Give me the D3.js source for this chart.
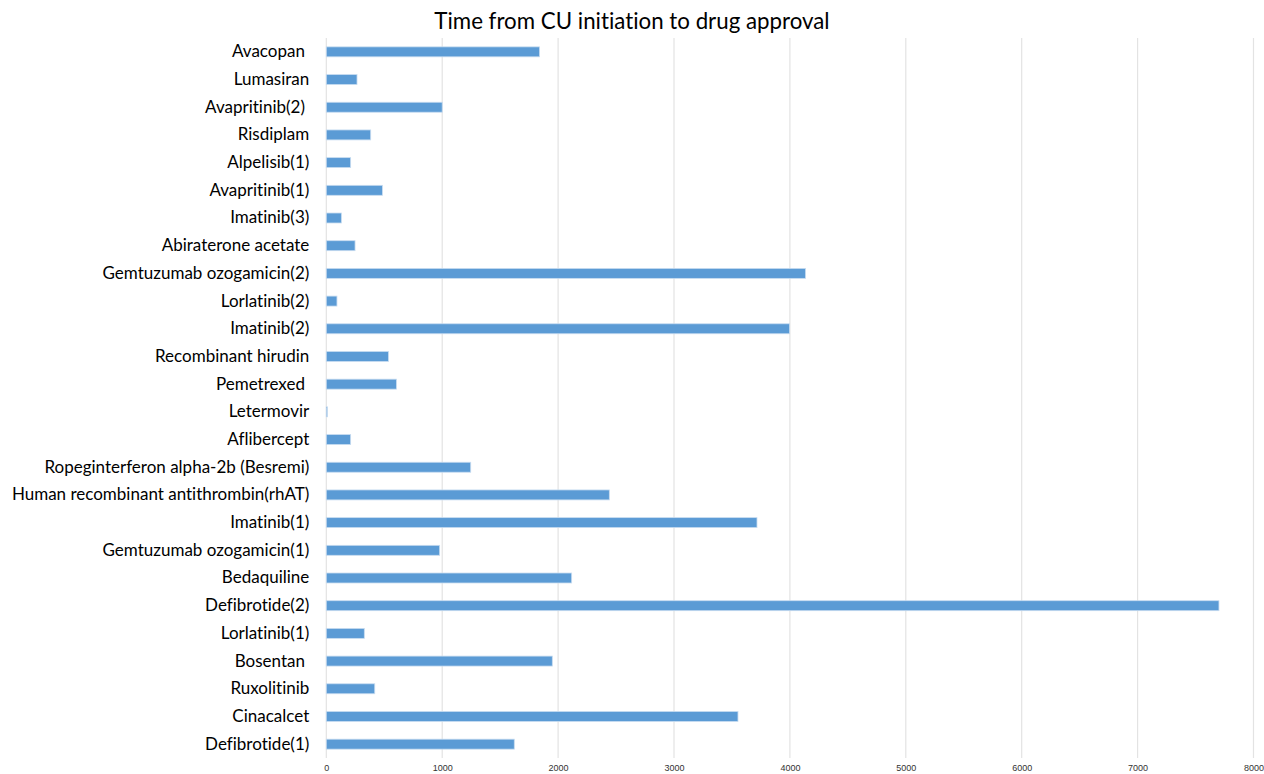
<!DOCTYPE html>
<html><head><meta charset="utf-8">
<script src="https://cdn.jsdelivr.net/npm/d3@7"></script>
<style>
body{margin:0;background:#fff;}
svg{display:block;}
text{font-variant-ligatures:none;}
</style></head>
<body>
<svg id="chart" width="1264" height="774"></svg>
<script>
const categories = ["Avacopan ","Lumasiran","Avapritinib(2) ","Risdiplam","Alpelisib(1)","Avapritinib(1)","Imatinib(3)","Abiraterone acetate","Gemtuzumab ozogamicin(2)","Lorlatinib(2)","Imatinib(2)","Recombinant hirudin","Pemetrexed ","Letermovir","Aflibercept","Ropeginterferon alpha-2b (Besremi)","Human recombinant antithrombin(rhAT)","Imatinib(1)","Gemtuzumab ozogamicin(1)","Bedaquiline","Defibrotide(2)","Lorlatinib(1)","Bosentan ","Ruxolitinib","Cinacalcet","Defibrotide(1)"];
const values = [1840,265,1000,383,210,484,130,248,4135,92,3997,536,605,10,210,1246,2442,3716,978,2117,7702,328,1950,418,3552,1622];
const xTicks = [0,1000,2000,3000,4000,5000,6000,7000,8000];
const title = "Time from CU initiation to drug approval";

const svg = d3.select("#chart");
const mLeft = 326.3, mRight = 1253.5, mTop = 38, mBottom = 758;
const x = d3.scaleLinear().domain([0,8000]).range([mLeft,mRight]);
const y = d3.scaleBand().domain(categories).range([mTop,mBottom]).paddingInner(0.64).paddingOuter(0.32);

// gridlines
svg.append("g").selectAll("line").data(xTicks).join("line")
  .attr("x1",d=>x(d)).attr("x2",d=>x(d)).attr("y1",mTop).attr("y2",mBottom)
  .attr("stroke","#e3e3e3").attr("stroke-width",1.2);

// bars
svg.append("g").selectAll("rect").data(categories).join("rect")
  .attr("x",x(0)).attr("y",d=>y(d))
  .attr("width",(d,i)=>Math.max(1,x(values[i])-x(0)))
  .attr("height",y.bandwidth())
  .attr("fill","#5b9bd5").attr("stroke","#c8dcf0").attr("stroke-width",0.8);

// category labels
const yAxis = d3.axisLeft(y).tickSize(0).tickPadding(17);
const gy = svg.append("g").attr("transform",`translate(${mLeft},0)`).call(yAxis);
gy.select(".domain").remove();
gy.selectAll("text").attr("font-family","Lato, 'Open Sans', sans-serif").attr("font-size",17)
  .attr("fill","#000").style("white-space","pre");

// x axis
const xAxis = d3.axisBottom(x).tickValues(xTicks).tickSize(0).tickPadding(7).tickFormat(d3.format("d"));
const gx = svg.append("g").attr("transform",`translate(0,${mBottom})`).call(xAxis);
gx.select(".domain").remove();
gx.selectAll("text").attr("font-family","'Liberation Sans Narrow', 'Liberation Sans', sans-serif").attr("font-size",9).attr("fill","#333");

// title
svg.append("text").attr("x",632).attr("y",29).attr("text-anchor","middle")
  .attr("font-family","Lato, 'Open Sans', sans-serif").attr("font-size",22.3).attr("fill","#000").text(title);
</script>
</body></html>
